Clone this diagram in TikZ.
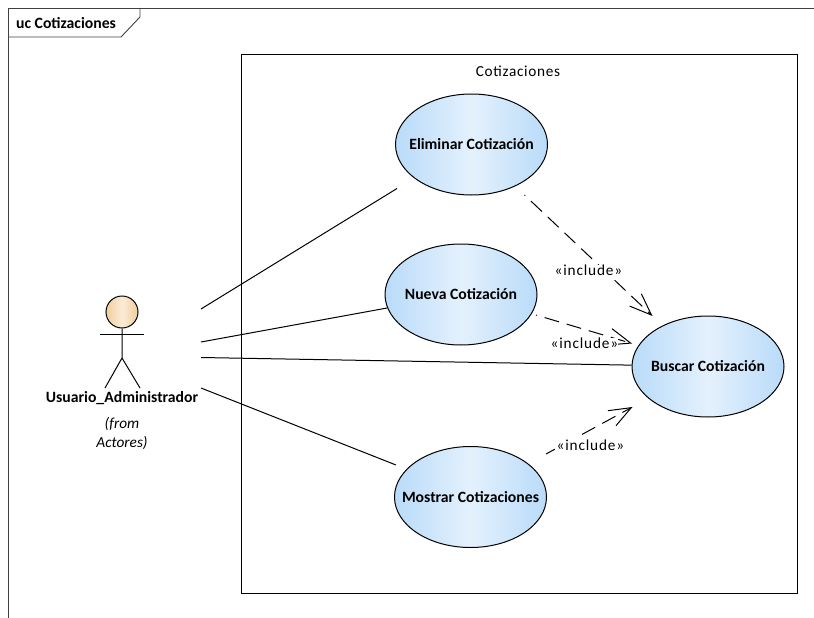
\documentclass[tikz,border=0pt]{standalone}
\usepackage{fontspec}
\setmainfont{Carlito}
\usetikzlibrary{arrows.meta,shapes.geometric}

\newcommand{\uctext}[1]{\makebox[0pt][c]{#1}}
\tikzset{
  usecase/.style={ellipse,draw=black,line width=1pt,minimum width=152pt,minimum height=101pt,inner sep=0pt,
    left color=ucblue,right color=ucblue,middle color=ucpale,font=\fontsize{15.7}{18}\selectfont\bfseries},
  stereo/.style={inner sep=0pt,fill=white,font=\fontsize{15.3}{18}\selectfont\addfontfeature{LetterSpace=5.5}},
  assoc/.style={line width=1pt},
  incl/.style={line width=1pt,dash pattern=on 15pt off 8pt,dash phase=14pt,
    -{Straight Barb[length=22pt,width=17pt,line width=1pt]}}
}
\definecolor{ucblue}{HTML}{B9DBF9}
\definecolor{ucpale}{HTML}{E4F1FD}
\definecolor{actskin}{HTML}{F2CE9C}
\definecolor{actpale}{HTML}{FAEBD7}
\definecolor{framegray}{HTML}{404040}

\begin{document}
\begin{tikzpicture}[x=1pt,y=-1pt,>=stealth]
\useasboundingbox (0,0) rectangle (814,618);
% The frame
\draw[framegray,line width=0.9pt] (8,618) -- (8,8) -- (814,8);
\draw[framegray,line width=0.9pt] (8,37) -- (121,37) -- (140,17) -- (140,8);
\node[anchor=west,inner sep=0pt,font=\fontsize{15.7}{18}\selectfont\bfseries] (title) at (16,23) {uc Cotizaciones};

% The boundary
\draw[line width=0.9pt] (241,54) rectangle (797,593);
\node[inner sep=0pt,font=\fontsize{15.3}{18}\selectfont\addfontfeature{LetterSpace=4.5}] (system) at (518,71) {Cotizaciones};

% The use cases
\node[usecase] (eliminar) at (471.5,144.5) {\uctext{Eliminar Cotización}};
\node[usecase] (nueva) at (461,294.5) {\uctext{Nueva Cotización}};
\node[usecase] (buscar) at (708,366.5) {\uctext{Buscar Cotización}};
\node[usecase] (mostrar) at (470.5,497) {\uctext{Mostrar Cotizaciones}};

% The actor
\node[circle,draw=black,line width=1pt,minimum size=32pt,inner sep=0pt,
  left color=actskin,right color=actskin,middle color=actpale] (head) at (122,312) {};
\coordinate (hip) at (122,358);
\coordinate (handl) at (100,334.5);
\coordinate (handr) at (144,334.5);
\coordinate (footl) at (105,388);
\coordinate (footr) at (140,388);
\draw[line width=1pt] (head) -- (hip) -- (footl);
\draw[line width=1pt] (hip) -- (footr);
\draw[line width=1pt] (handl) -- (handr);
\node[inner sep=0pt,font=\fontsize{15.7}{18}\selectfont\bfseries] (actor) at (122,398) {Usuario\_Administrador};
\node[inner sep=0pt,align=center,font=\fontsize{15.3}{19}\selectfont\itshape] (from) at (122,433.5) {(from\\Actores)};

% The associations
\coordinate (a1) at (201,309);
\coordinate (e1) at (397,188.5);
\coordinate (a2) at (201,342);
\coordinate (a3) at (201,357.5);
\coordinate (a4) at (201,388);
\coordinate (e4) at (396,465);
\draw[assoc] (a1) -- (e1);
\draw[assoc] (a2) -- (nueva);
\draw[assoc] (a3) -- (buscar);
\draw[assoc] (a4) -- (e4);

% The includes
\coordinate (s1) at (524.5,195);
\coordinate (t1) at (652.5,316);
\coordinate (s2) at (536,315);
\coordinate (t2) at (632,343.5);
\coordinate (s3) at (546,454);
\coordinate (t3) at (632.5,407);
\draw[incl] (s1) -- (t1);
\draw[incl] (s2) -- (t2);
\draw[incl,dash phase=5pt] (s3) -- (t3);
\node[stereo] (inc1) at (588.5,270) {«include»};
\node[stereo] (inc2) at (584.5,343.5) {«include»};
\node[stereo,minimum height=21pt] (inc3) at (590.5,445.5) {«include»};
\end{tikzpicture}
\end{document}
